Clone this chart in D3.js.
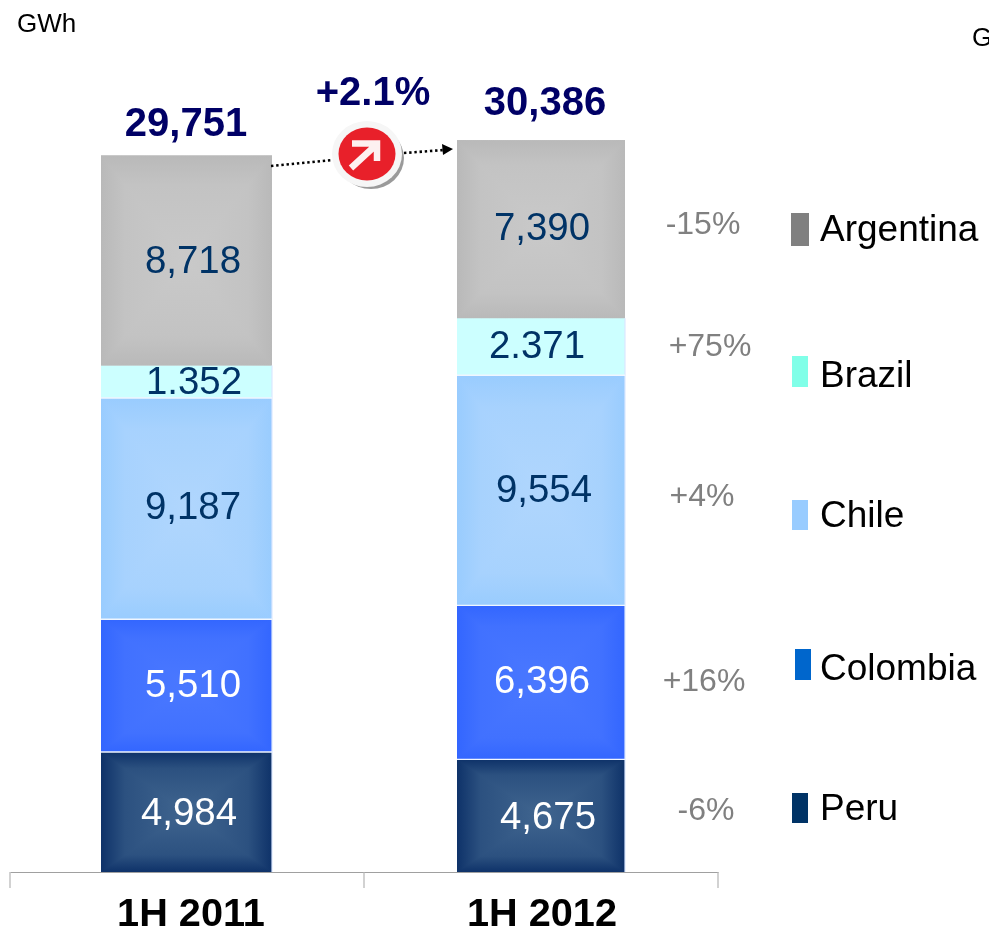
<!DOCTYPE html>
<html>
<head>
<meta charset="utf-8">
<script src="https://cdn.jsdelivr.net/npm/d3@7"></script>
<style>
  html, body { margin: 0; padding: 0; background: #fff; overflow: hidden; }
  svg { display: block; font-family: "Liberation Sans", Arial, sans-serif; }
</style>
</head>
<body>
<svg id="chart" width="989" height="938"></svg>
<script>
// values, GWh
var periods = ["1H 2011", "1H 2012"];
var countries = ["Peru", "Colombia", "Chile", "Brazil", "Argentina"];
var peru = [4984, 4675];
var colombia = [5510, 6396];
var chile = [9187, 9554];
var brazil = [1352, 2371];
var argentina = [8718, 7390];
var totals = [29751, 30386];
var growth = ["-6%", "+16%", "+4%", "+75%", "-15%"];
var totalGrowth = "+2.1%";

var seriesValues = [peru, colombia, chile, brazil, argentina];

// styling per country, same order as countries
var edgeColor = ["#0e3269", "#3366ff", "#99ccff", "#ccffff", "#b9b9b9"];
var centerColor = ["#40658f", "#4a78ff", "#b0d6fd", "#ccffff", "#c9c9c9"];
var textColor = ["#fff", "#fff", "#003366", "#003366", "#003366"];
var legendColor = ["#003366", "#0066cc", "#99ccff", "#80ffe8", "#808080"];
var legendBox = [[792, 793, 16, 30], [795, 649, 16, 31], [792, 500, 16, 30], [792, 356, 16, 31], [791, 213, 18, 33]];
var legendBase = [820, 680, 527, 387, 241];

// hand placed label offsets from the middle of each segment, [1H 2011, 1H 2012]
var labelDx = [[2, 7], [6, 1], [6, 3], [7, -4], [6, 1]];
var labelDy = [[13, 13], [11, 11], [10, 12], [12, 11], [13, 11]];
var growthPos = [[706, 4], [704, 9], [702, 16], [710, 9], [703, 5]];
var barInset = [91, 93], barWidth = [171, 168];

var svg = d3.select("#chart");
var baseY = 872;

var x = d3.scaleBand().domain(periods).range([10, 718]).padding(0);
var y = d3.scaleLinear().domain([0, 29770]).range([baseY, 155]);

var stack = d3.stack().keys(d3.range(countries.length))
  .value(function(d, k) { return seriesValues[k][d]; });
var layers = stack(d3.range(periods.length));

// box shaped gradients: two linear ramps, darken keeps the lower of both
var defs = svg.append("defs");
countries.forEach(function(c, i) {
  var mid = d3.interpolateRgb(edgeColor[i], centerColor[i])(0.6);
  ["h", "v"].forEach(function(dir) {
    var g = defs.append("linearGradient").attr("id", dir + i)
      .attr("x1", 0).attr("y1", 0)
      .attr("x2", dir == "h" ? 1 : 0).attr("y2", dir == "h" ? 0 : 1);
    g.append("stop").attr("offset", 0).attr("stop-color", edgeColor[i]);
    g.append("stop").attr("offset", 0.14).attr("stop-color", mid);
    g.append("stop").attr("offset", 0.5).attr("stop-color", centerColor[i]);
    g.append("stop").attr("offset", 0.86).attr("stop-color", mid);
    g.append("stop").attr("offset", 1).attr("stop-color", edgeColor[i]);
  });
});

var bars = svg.append("g").style("isolation", "isolate");
layers.forEach(function(layer, i) {
  layer.forEach(function(d, p) {
    var bx = x(periods[p]) + barInset[p];
    ["h", "v"].forEach(function(dir) {
      bars.append("rect")
        .attr("x", bx).attr("y", y(d[1]))
        .attr("width", barWidth[p]).attr("height", y(d[0]) - y(d[1]))
        .attr("fill", "url(#" + dir + i + ")")
        .style("mix-blend-mode", "darken");
    });
  });
});

// thin light edges on the coloured segments
layers.forEach(function(layer, i) {
  if (countries[i] == "Argentina") return;
  layer.forEach(function(d, p) {
    var bx = x(periods[p]) + barInset[p];
    svg.append("line")
      .attr("x1", bx + barWidth[p]).attr("x2", bx + barWidth[p])
      .attr("y1", y(d[1])).attr("y2", y(d[0]))
      .attr("stroke", "#dbe7ff").attr("stroke-width", 1.2);
    if (i > 0) svg.append("line")
      .attr("x1", bx).attr("x2", bx + barWidth[p])
      .attr("y1", y(d[0])).attr("y2", y(d[0]))
      .attr("stroke", "#f0f6ff").attr("stroke-width", 1.4);
  });
});

// segment values
var fmt = d3.format(",");
layers.forEach(function(layer, i) {
  layer.forEach(function(d, p) {
    var txt = fmt(seriesValues[i][p]);
    if (countries[i] == "Brazil") txt = txt.replace(",", "."); // written with a dot in the source
    svg.append("text")
      .attr("x", x(periods[p]) + x.bandwidth() / 2 + labelDx[i][p])
      .attr("y", (y(d[0]) + y(d[1])) / 2 + labelDy[i][p])
      .attr("text-anchor", "middle")
      .attr("font-size", 38.4)
      .attr("fill", textColor[i])
      .text(txt);
  });
});

// growth column next to second bar
layers.forEach(function(layer, i) {
  var d = layer[1];
  svg.append("text")
    .attr("x", growthPos[i][0])
    .attr("y", (y(d[0]) + y(d[1])) / 2 + growthPos[i][1])
    .attr("text-anchor", "middle")
    .attr("font-size", 32)
    .attr("fill", "#808080")
    .text(growth[i]);
});

// totals
var totalX = [186, 545], totalY = [136, 115];
totals.forEach(function(t, p) {
  svg.append("text")
    .attr("x", totalX[p]).attr("y", totalY[p])
    .attr("text-anchor", "middle")
    .attr("font-size", 40).attr("font-weight", "bold")
    .attr("fill", "#000066")
    .text(fmt(t));
});
svg.append("text")
  .attr("x", 373).attr("y", 105)
  .attr("text-anchor", "middle")
  .attr("font-size", 40).attr("font-weight", "bold")
  .attr("fill", "#000066")
  .text(totalGrowth);

// dotted arrow between the bars
var arrow = svg.append("g");
[[271, 166, 333, 160], [404, 153, 444, 150]].forEach(function(s) {
  arrow.append("line")
    .attr("x1", s[0]).attr("y1", s[1]).attr("x2", s[2]).attr("y2", s[3])
    .attr("stroke", "#000").attr("stroke-width", 2.6)
    .attr("stroke-dasharray", "2.4 2.8");
});
arrow.append("path").attr("d", "M442,144 L453,149 L443,155 Z").attr("fill", "#000");

// red badge
var badge = svg.append("g");
badge.append("ellipse").attr("cx", 371).attr("cy", 158).attr("rx", 33).attr("ry", 31).attr("fill", "#9a9a9a");
badge.append("ellipse").attr("cx", 367).attr("cy", 154).attr("rx", 35).attr("ry", 33).attr("fill", "#f6f6f6");
badge.append("ellipse").attr("cx", 367).attr("cy", 154).attr("rx", 28.5).attr("ry", 26.5).attr("fill", "#e8202a");
badge.append("path").attr("d", "M351,168 L376,145 M352,143.5 L377,143.5 L377,161")
  .attr("fill", "none").attr("stroke", "#fdf0f0").attr("stroke-width", 6.5);

// axis, with the ticks between the categories
var axis = svg.append("g").attr("transform", "translate(0," + baseY + ")")
  .call(d3.axisBottom(x).tickSize(0));
axis.select(".domain").attr("stroke", "#a0a0a0").attr("stroke-width", 1.2);
axis.selectAll("text")
  .attr("y", 53.5).attr("dy", 0)
  .attr("dx", function(d, i) { return i == 0 ? 4 : 1; })
  .attr("fill", "#000")
  .style("font-family", "inherit")
  .attr("font-size", 39.7).attr("font-weight", "bold");
var edges = periods.map(function(c) { return x(c); }).concat([x(periods[1]) + x.step()]);
axis.selectAll(".edge").data(edges).enter().append("line")
  .attr("class", "edge")
  .attr("x1", function(d) { return d; }).attr("x2", function(d) { return d; })
  .attr("y1", 0).attr("y2", 16)
  .attr("stroke", "#b4b4b4").attr("stroke-width", 1.2);

// legend
countries.forEach(function(c, i) {
  var b = legendBox[i];
  svg.append("rect")
    .attr("x", b[0]).attr("y", b[1]).attr("width", b[2]).attr("height", b[3])
    .attr("fill", legendColor[i]);
  svg.append("text")
    .attr("x", 820).attr("y", legendBase[i])
    .attr("font-size", 37).attr("fill", "#000")
    .text(c);
});

// unit labels, only the first letter of the right one is on the slide
svg.append("text").attr("x", 17).attr("y", 32).attr("font-size", 26).text("GWh");
svg.append("text").attr("x", 972).attr("y", 46).attr("font-size", 26).text("G");
</script>
</body>
</html>
